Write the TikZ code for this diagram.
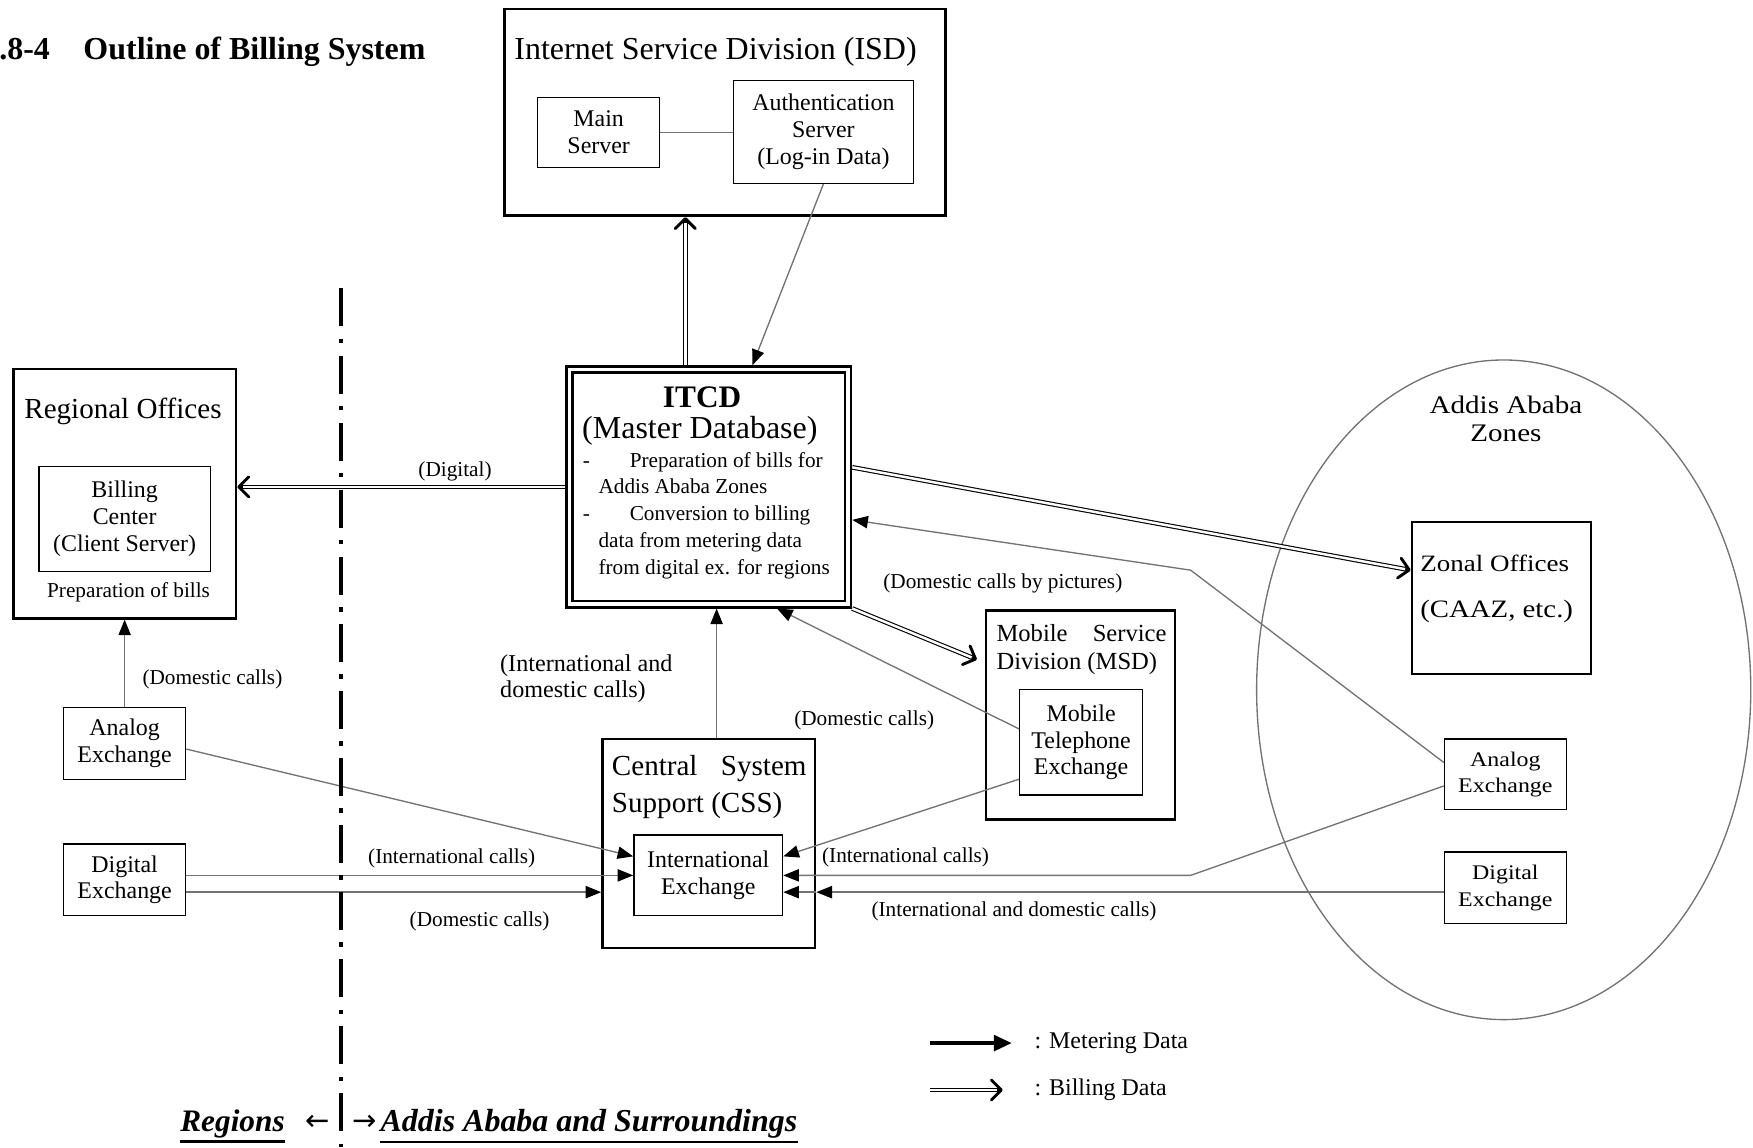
\documentclass[tikz,border=0pt]{standalone}
\usepackage{fontspec}
\setmainfont{Liberation Serif}
\newfontfamily\widefont{Liberation Serif}[FakeStretch=1.15]
\newfontfamily\arrowfont{DejaVu Sans}
\usetikzlibrary{arrows.meta,calc}
\newcommand{\fs}[2]{\fontsize{#1}{#2}\selectfont}
\newcommand{\billarrow}[2]{%
  \draw[billline] (#1) -- (#2);
  \draw[billtip] ($(#2)!2.5pt!(#1)$) -- (#2);}
\begin{document}
\begin{tikzpicture}[x=0.5pt,y=-0.5pt,
  thickbox/.style={draw, line width=1.2pt, inner sep=0pt},
  thinbox/.style={draw, line width=0.6pt, inner sep=0pt, align=center, font=\fs{10.7pt}{12pt}},
  meter/.style={draw=black!55, line width=0.6pt, -{Triangle[length=7pt,width=5.5pt,color=black]}},
  plainline/.style={draw=black!55, line width=0.6pt},
  billline/.style={draw=black, line width=0.5pt, double=white, double distance=1.1pt, shorten >=1.5pt},
  billtip/.style={draw=black, line width=1.2pt, -{Straight Barb[length=4.5pt,width=9pt,line width=1.3pt,round]}},
  lbl/.style={inner sep=0pt, font=\fs{9.5pt}{11pt}},
]
\useasboundingbox (0,0) rectangle (1568,1026);

% title
\node[anchor=west, inner sep=0, font=\bfseries\fs{14.3pt}{16pt}] (title) at (-1,46) {.8-4\hspace{15pt}Outline of Billing System};

% ISD
\node[thickbox, minimum width=197.5pt, minimum height=92.5pt] (isd) at (648.5,100.5) {};
\node[inner sep=0, font=\fs{14.3pt}{16pt}] (isdt) at (640,46) {Internet Service Division (ISD)};
\node[thinbox, minimum width=54.5pt, minimum height=31.5pt] (ms) at (535.5,118.5) {Main\\Server};
\node[thinbox, minimum width=80.5pt, minimum height=46pt] (auth) at (736.5,118) {Authentication\\Server\\(Log-in Data)};

% ITCD
\node[draw, line width=1.1pt, double=white, double distance=1.6pt, outer sep=1.9pt, inner sep=0, minimum width=124.5pt, minimum height=105pt] (itcd) at (634,435.5) {};
\node[inner sep=0, font=\bfseries\fs{14pt}{16pt}] (itcdt) at (628,355) {ITCD};
\node[inner sep=0, font=\fs{14.3pt}{16pt}] (itcdm) at (626,385) {(Master Database)};
\node[anchor=north west, inner sep=0, align=left, font=\fs{9.5pt}{12pt}] (itcdl) at (521,404) {-\hspace{17.8pt}Preparation of bills for\\\hspace*{7pt}Addis Ababa Zones\\-\hspace{17.8pt}Conversion to billing\\\hspace*{7pt}data from metering data\\\hspace*{7pt}from digital ex. for regions};

% Regional offices
\node[thickbox, minimum width=99.5pt, minimum height=111.5pt] (ro) at (111.5,441.5) {};
\node[inner sep=0, font=\fs{13pt}{15pt}] (rot) at (110,368) {Regional Offices};
\node[thinbox, minimum width=76.5pt, minimum height=47pt] (bc) at (111.5,464) {Billing\\Center\\(Client Server)};
\node[lbl] (rop) at (115,530) {Preparation of bills};

% left exchanges
\node[thinbox, minimum width=54.5pt, minimum height=32pt] (lae) at (111.5,665) {Analog\\Exchange};
\node[thinbox, minimum width=54.5pt, minimum height=32pt] (lde) at (111.5,787) {Digital\\Exchange};

% CSS
\node[thickbox, minimum width=95pt, minimum height=93.5pt] (css) at (634,754.5) {};
\node[anchor=north west, inner sep=0, align=left, font=\fs{13pt}{16.5pt}] (csst) at (547,675) {\makebox[87pt][l]{Central\hfill System}\\Support (CSS)};
\node[thinbox, minimum width=66.5pt, minimum height=36pt] (ie) at (633.5,783) {International\\Exchange};

% MSD
\node[thickbox, minimum width=84.5pt, minimum height=93.5pt] (msd) at (966.5,639.5) {};
\node[anchor=north west, inner sep=0, align=left, font=\fs{11pt}{12.5pt}] (msdt) at (891,558) {\makebox[76pt][l]{Mobile\hfill Service}\\Division (MSD)};
\node[thinbox, minimum width=55pt, minimum height=47pt] (mte) at (967,664) {Mobile\\Telephone\\Exchange};

% Addis Ababa zones
\coordinate (ellc) at (1345,617);
\draw[black!55, line width=0.6pt] (ellc) ellipse [x radius=221, y radius=295];
\node[inner sep=0, align=center, font=\widefont\fs{11.3pt}{12.5pt}] (aaz) at (1347,375) {Addis Ababa\\Zones};
\node[thickbox, minimum width=80pt, minimum height=68pt] (zo) at (1343,535) {};
\node[inner sep=0, anchor=west, font=\widefont\fs{10.5pt}{12pt}] (zot) at (1270,504) {Zonal Offices};
\node[inner sep=0, anchor=west, font=\widefont\fs{11.2pt}{13pt}] (zoc) at (1270,547) {(CAAZ, etc.)};
\node[thinbox, font=\widefont\fs{9.3pt}{11.5pt}, minimum width=54.5pt, minimum height=31.5pt] (rae) at (1346.5,692.5) {Analog\\Exchange};
\node[thinbox, font=\widefont\fs{9.3pt}{12pt}, minimum width=54.5pt, minimum height=32pt] (rde) at (1346.5,794) {Digital\\Exchange};

% connectors
\draw[plainline] (ms.east) -- (ms.east -| auth.west);
\coordinate (itcdtop2) at ($(itcd.north)+(39,0)$);
\draw[meter] (auth.south) -- (itcdtop2);
\coordinate (isdup) at ($(itcd.north)+(-21,0)$);
\coordinate (isdin) at (isdup |- isd.south);
\billarrow{isdup}{isdin}

\coordinate (itcdl1) at (itcd.west);
\coordinate (roin) at (itcd.west -| ro.east);
\billarrow{itcdl1}{roin}
\node[lbl] (ldig) at (407,422) {(Digital)};

\draw[meter] (lae.north) -- (lae.north |- ro.south);
\node[lbl] (ldc1) at (190,608) {(Domestic calls)};

\coordinate (laeo) at ($(lae.east)+(0,5)$);
\coordinate (iein1) at ($(ie.west)+(0,-17)$);
\draw[meter] (laeo) -- (iein1);

\coordinate (ldeo1) at ($(lde.east)+(0,-4)$);
\draw[meter] (ldeo1) -- (ldeo1 -| ie.west);
\node[lbl] (lic) at (404,768) {(International calls)};
\coordinate (ldeo2) at ($(lde.east)+(0,11)$);
\draw[meter] (ldeo2) -- (ldeo2 -| css.west);
\node[lbl] (ldc2) at (429,824) {(Domestic calls)};

\coordinate (cssup) at ($(css.north)+(7,0)$);
\draw[meter] (cssup) -- (cssup |- itcd.south);
\node[anchor=west, inner sep=0, align=left, font=\fs{10.8pt}{11.5pt}] (liad) at (447,607) {(International and\\domestic calls)};

\coordinate (mteo1) at ($(mte.west)+(0,-12)$);
\coordinate (itcdb2) at ($(itcd.south)+(61,0)$);
\draw[meter] (mteo1) -- (itcdb2);
\node[lbl] (ldc3) at (773,644) {(Domestic calls)};

\coordinate (mteo2) at ($(mte.west)+(0,33)$);
\coordinate (iein2) at ($(ie.east)+(0,-17)$);
\draw[meter] (mteo2) -- (iein2);

\coordinate (itcdse) at (itcd.south east);
\coordinate (msdin) at ($(msd.west)+(-7,-49.5)$);
\billarrow{itcdse}{msdin}
\node[lbl] (ldcp) at (897,522) {(Domestic calls by pictures)};

\coordinate (raeo1) at ($(rae.west)+(0,-10.5)$);
\coordinate (bend1) at (1065,510);
\coordinate (itcdr2) at ($(itcd.east)+(0,29.5)$);
\draw[meter] (raeo1) -- (bend1) -- (itcdr2);

\coordinate (itcdr1) at ($(itcd.east)+(0,-17.5)$);
\coordinate (zoin) at ($(zo.west)+(0,-25)$);
\billarrow{itcdr1}{zoin}

\coordinate (raeo2) at ($(rae.west)+(0,10.5)$);
\coordinate (bend2) at (1065,783);
\draw[meter] (raeo2) -- (bend2) -- (bend2 -| ie.east);
\node[lbl] (ric) at (810,767) {(International calls)};

\coordinate (rdeo) at ($(rde.west)+(0,4)$);
\draw[meter] (rdeo) -- (rdeo -| css.east);
\draw[meter] (rdeo -| css.east) -- (rdeo -| ie.east);
\node[lbl] (riad) at (907,815) {(International and domestic calls)};

% divider
\coordinate (dvt) at (305,258);
\coordinate (dvb) at (305,1026);
\draw[line width=1.5pt, dash pattern=on 17pt off 5.5pt on 2pt off 5.5pt] (dvt) -- (dvb);

% legend
\coordinate (lg1a) at (832,933);
\coordinate (lg1b) at (905,933);
\draw[line width=1.6pt, -{Triangle[length=8pt,width=7pt]}] (lg1a) -- (lg1b);
\node[anchor=west, inner sep=0, font=\fs{10.7pt}{12pt}] (lgm) at (925,933) {: Metering Data};
\coordinate (lg2a) at (832,975);
\coordinate (lg2b) at (897,975);
\billarrow{lg2a}{lg2b}
\node[anchor=west, inner sep=0, font=\fs{10.7pt}{12pt}] (lgb) at (925,975) {: Billing Data};

% bottom
\node[inner sep=0, font=\bfseries\itshape\fs{14pt}{16pt}] (reg) at (208,1005) {Regions};
\draw[line width=1pt] ([yshift=-1.5pt]reg.south west) -- ([yshift=-1.5pt]reg.south east);
\node[inner sep=0, font=\arrowfont\fs{13pt}{14pt}] (larr) at (284,1004) {←};
\node[inner sep=0, font=\arrowfont\fs{13pt}{14pt}] (rarr) at (326,1004) {→};
\node[anchor=west, inner sep=0, font=\bfseries\itshape\fs{14.3pt}{16pt}] (aas) at (340,1005) {Addis Ababa and Surroundings};
\draw[line width=1pt] ([yshift=-1.5pt]aas.south west) -- ([yshift=-1.5pt]aas.south east);
\end{tikzpicture}
\end{document}
